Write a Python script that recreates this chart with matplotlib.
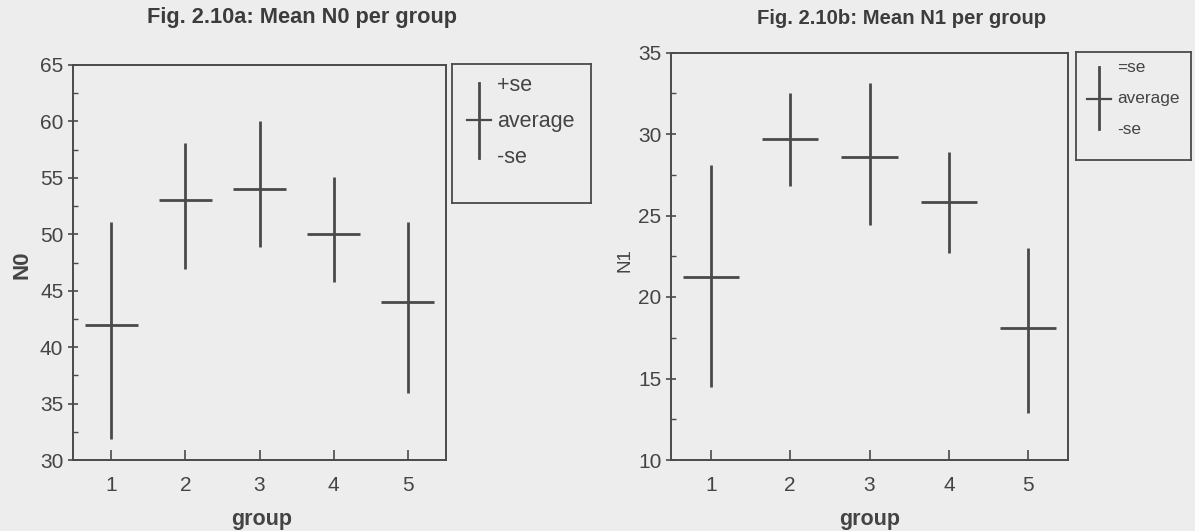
import matplotlib
matplotlib.use("Agg")
import matplotlib.pyplot as plt
from matplotlib.ticker import MultipleLocator

# ---- data -------------------------------------------------------------
groups = [1, 2, 3, 4, 5]

n0_mean = [42.0, 53.0, 54.0, 50.0, 44.0]
n0_upper = [51.1, 58.1, 60.0, 55.1, 51.1]
n0_lower = [31.9, 46.9, 48.9, 45.8, 35.9]

n1_mean = [21.2, 29.7, 28.6, 25.8, 18.1]
n1_upper = [28.1, 32.5, 33.1, 28.9, 23.0]
n1_lower = [14.5, 26.8, 24.4, 22.7, 12.9]

legend_a = ["+se", "average", "-se"]
legend_b = ["=se", "average", "-se"]

# ---- style ------------------------------------------------------------
W, H = 1195, 531
BG = "#ededed"
INK = "#4a4a4a"
TXT = "#444444"
plt.rcParams["font.family"] = ["Liberation Sans", "DejaVu Sans"]

fig = plt.figure(figsize=(W / 100, H / 100), dpi=100, facecolor=BG)


def rect(x0, y0, x1, y1):
    """Figure-fraction rectangle from pixel corners (top-left origin)."""
    return [x0 / W, 1 - y1 / H, (x1 - x0) / W, (y1 - y0) / H]


def panel(box, mean, lo, hi, ylim, xlim, title, title_xy, title_size,
          ylabel, ylabel_xy, ylabel_size, ylabel_weight, xlabel_xy,
          half=0.36):
    ax = fig.add_axes(rect(*box))
    ax.set_facecolor(BG)
    ax.vlines(groups, lo, hi, color=INK, lw=2.0)
    ax.hlines(mean, [g - half for g in groups], [g + half for g in groups],
              color=INK, lw=2.0)
    ax.set_xlim(*xlim)
    ax.set_ylim(*ylim)
    ax.set_xticks(groups)
    ax.yaxis.set_major_locator(MultipleLocator(5))
    ax.yaxis.set_minor_locator(MultipleLocator(2.5))
    for s in ax.spines.values():
        s.set_color(INK)
        s.set_linewidth(1.4)
    ax.tick_params(axis="x", direction="in", length=7, width=1.2,
                   color=INK, labelcolor=TXT, labelsize=15, pad=11.5)
    ax.tick_params(axis="y", which="major", direction="inout", length=7,
                   width=1.2, color=INK, labelcolor=TXT, labelsize=15, pad=3.5)
    ax.tick_params(axis="y", which="minor", direction="in", length=3.5,
                   width=1.0, color=INK)

    fig.text(title_xy[0] / W, 1 - title_xy[1] / H, title, ha="center",
             va="center", fontsize=title_size, fontweight="bold", color="#3c3c3c")

    ax.set_xlabel("group", fontsize=15.5, fontweight="bold", color=TXT)
    ax.xaxis.set_label_coords(xlabel_xy[0] / W, 1 - xlabel_xy[1] / H,
                              transform=fig.transFigure)
    ax.xaxis.label.set_va("center")

    ax.set_ylabel(ylabel, fontsize=ylabel_size, fontweight=ylabel_weight,
                  color=TXT)
    ax.yaxis.set_label_coords(ylabel_xy[0] / W, 1 - ylabel_xy[1] / H,
                              transform=fig.transFigure)
    ax.yaxis.label.set_va("center")
    return ax


def legend_box(box, labels, cross, text_x, text_ys, size):
    x0, y0, x1, y1 = box
    lg = fig.add_axes(rect(*box))
    lg.set_facecolor(BG)
    lg.set_xlim(x0, x1)
    lg.set_ylim(y1, y0)
    lg.set_xticks([])
    lg.set_yticks([])
    for s in lg.spines.values():
        s.set_color(INK)
        s.set_linewidth(1.3)
    cx, cy, vtop, vbot, hl, hr = cross
    lg.plot([cx, cx], [vtop, vbot], color=INK, lw=2.0)
    lg.plot([hl, hr], [cy, cy], color=INK, lw=1.6)
    for lab, ty in zip(labels, text_ys):
        lg.text(text_x, ty, lab, ha="left", va="center", fontsize=size,
                color=TXT)


# Fig. 2.10a
panel((73, 65, 446, 460), n0_mean, n0_lower, n0_upper, (30, 65), (0.48, 5.52),
      "Fig. 2.10a: Mean N0 per group", (302, 18), 15.7,
      "N0", (22, 265), 16, "bold", (262, 519))
legend_box((452, 64, 591, 203), legend_a,
           (479, 120, 83, 158, 467.5, 491), 497, (86, 122, 158), 15.5)

# Fig. 2.10b
panel((671, 52.5, 1068, 460), n1_mean, n1_lower, n1_upper, (10, 35), (0.5, 5.5),
      "Fig. 2.10b: Mean N1 per group", (902, 18), 14.6,
      "N1", (625, 260), 13.5, "normal", (870, 519), half=0.355)
legend_box((1076, 52, 1191, 160), legend_b,
           (1098.5, 98.5, 66.5, 129, 1087, 1111), 1117, (68, 98.5, 130), 12.4)

fig.savefig("out.png", dpi=100, facecolor=BG)
